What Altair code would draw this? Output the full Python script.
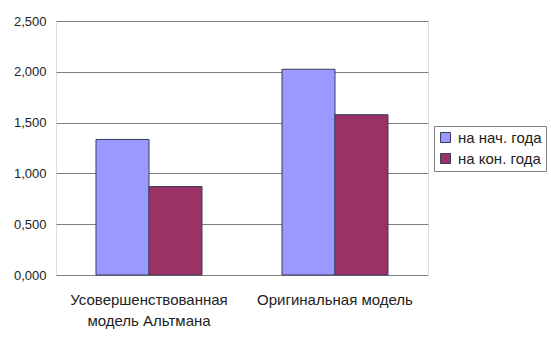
import altair as alt
import pandas as pd

categories = ["Усовершенствованная модель Альтмана", "Оригинальная модель"]
series = ["на нач. года", "на кон. года"]
start_values = [1.334, 2.025]
end_values = [0.871, 1.578]
colors = ["#9999FF", "#993366"]

rows = []
for c, s, e in zip(categories, start_values, end_values):
    rows.append({"cat": c, "series": series[0], "value": s})
    rows.append({"cat": c, "series": series[1], "value": e})
df = pd.DataFrame(rows)

FONT = "Liberation Sans"

chart = alt.Chart(df).mark_bar(stroke="#3c3c5a", strokeWidth=1).encode(
    x=alt.X("cat:N", sort=categories, title=None,
            scale=alt.Scale(paddingInner=0.43, paddingOuter=0.215),
            axis=alt.Axis(labelAngle=0, labelFontSize=15, labelFont=FONT,
                          labelColor="#222222", ticks=False, domain=False,
                          labelPadding=17, labelLineHeight=21,
                          labelLimit=300,
                          labelExpr="datum.label == 'Усовершенствованная модель Альтмана' ? ['Усовершенствованная', 'модель Альтмана'] : datum.label")),
    xOffset=alt.XOffset("series:N", sort=series),
    y=alt.Y("value:Q", title=None,
            scale=alt.Scale(domain=[0, 2.5], nice=False),
            axis=alt.Axis(values=[0, 0.5, 1.0, 1.5, 2.0, 2.5],
                          labelExpr="replace(format(datum.value, '.3f'), '.', ',')",
                          labelFontSize=13, labelFont=FONT, labelColor="#222222",
                          ticks=False, domain=False, labelPadding=10,
                          grid=True, gridColor="#808080", gridWidth=1)),
    color=alt.Color("series:N", sort=series,
                    scale=alt.Scale(domain=series, range=colors),
                    legend=alt.Legend(title=None, orient="none", legendX=378, legendY=105,
                                      labelFont=FONT, labelFontSize=15, labelColor="#222222",
                                      symbolType="square", symbolSize=100,
                                      symbolStrokeColor="#3c3c5a", symbolStrokeWidth=1,
                                      strokeColor="#808080", padding=4, rowPadding=5,
                                      labelOffset=5, fillColor="white")),
).properties(
    width=372, height=254,
    autosize=alt.AutoSizeParams(type="none"),
    padding={"left": 56, "top": 21, "right": 123, "bottom": 66},
).configure_view(
    fill="#C0C0C0", stroke="#808080", strokeWidth=1.5
).configure(background="white")

chart.save("out.html", embed_options={"renderer": "svg", "actions": False})
